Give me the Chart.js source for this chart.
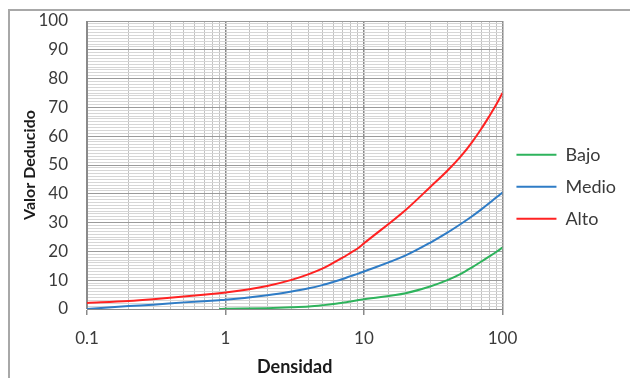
<!DOCTYPE html>
<html>
<head>
<meta charset="utf-8">
<script src="https://cdn.jsdelivr.net/npm/chart.js@4"></script>
<style>
  html, body { margin: 0; padding: 0; background: #ffffff; }
  #wrap { width: 630px; height: 378px; }
</style>
</head>
<body>
<div id="wrap"><canvas id="myChart" width="630" height="378"></canvas></div>
<script>
// Data
const densidad = [0.1, 0.2, 0.3, 0.5, 0.9, 1, 2, 3, 4, 5, 6, 7, 8, 9, 10, 20, 30, 40, 50, 60, 70, 80, 90, 100];
const bajo  = [null, null, null, null, 0, 0.05, 0.3, 0.6, 0.9, 1.3, 1.7, 2.2, 2.6, 3.0, 3.4, 5.5, 7.8, 10.0, 12.2, 14.4, 16.4, 18.2, 19.8, 21.3];
const medio = [0, 1.0, 1.5, 2.3, 3.05, 3.2, 4.8, 6.1, 7.2, 8.3, 9.4, 10.4, 11.4, 12.2, 13.0, 18.6, 23.0, 26.5, 29.5, 32.1, 34.5, 36.7, 38.7, 40.4];
const alto  = [2.1, 2.8, 3.4, 4.3, 5.5, 5.7, 8.0, 10.1, 12.1, 14.0, 16.0, 17.8, 19.5, 21.0, 22.8, 34.4, 42.3, 48.0, 53.0, 57.8, 62.4, 66.8, 70.9, 75.0];
const seriesNames = ['Bajo', 'Medio', 'Alto'];
const xTickValues = [0.1, 1, 10, 100];
const xTickLabels = ['0.1', '1', '10', '100'];

const colors = ['#2eb35c', '#2f7cc6', '#ff2222'];
const fontFamily = 'Lato, "Open Sans", sans-serif';

function toPoints(ys) {
    return densidad.map((x, i) => ({ x: x, y: ys[i] }));
}

function isDecade(v) {
    const l = Math.log10(v);
    return Math.abs(l - Math.round(l)) < 1e-6;
}

// Outer frame of the chart, like the spreadsheet border
const framePlugin = {
    id: 'frame',
    beforeDraw(chart) {
        const c = chart.ctx;
        c.save();
        c.fillStyle = '#ffffff';
        c.fillRect(0, 0, chart.width, chart.height);
        c.strokeStyle = '#a8a8a8';
        c.lineWidth = 2;
        c.strokeRect(9, 10, chart.width + 20, chart.height + 20);
        c.restore();
    }
};

const ctx = document.getElementById('myChart').getContext('2d');
const myChart = new Chart(ctx, {
    type: 'line',
    data: {
        datasets: [bajo, medio, alto].map((ys, i) => ({
            label: seriesNames[i],
            data: toPoints(ys),
            borderColor: colors[i],
            backgroundColor: colors[i],
            borderWidth: 2,
            pointRadius: 0,
            cubicInterpolationMode: 'monotone',
            fill: false
        }))
    },
    options: {
        responsive: false,
        animation: false,
        layout: { padding: { left: 12, top: 21, right: 4, bottom: 0 } },
        plugins: {
            tooltip: { enabled: false },
            legend: {
                position: 'right',
                align: 'start',
                title: { display: true, text: '', padding: { top: 0, bottom: 106 }, font: { size: 4 } },
                labels: {
                    usePointStyle: true,
                    pointStyle: 'line',
                    pointStyleWidth: 40,
                    padding: 14,
                    color: '#3a3a3a',
                    font: { family: fontFamily, size: 18 }
                }
            }
        },
        scales: {
            x: {
                type: 'logarithmic',
                min: 0.1,
                max: 100,
                afterFit: (s) => { s.height = 69; },
                title: {
                    display: true,
                    text: 'Densidad',
                    color: '#1a1a1a',
                    font: { family: fontFamily, size: 18, weight: 'bold' },
                    padding: { top: 0, bottom: 0 }
                },
                border: { display: true, color: '#8a8a8a', width: 1 },
                grid: {
                    drawTicks: true,
                    tickLength: 6,
                    color: (c) => isDecade(c.tick.value) ? '#8a8a8a' : '#c2c2c2',
                    tickColor: (c) => isDecade(c.tick.value) ? '#8a8a8a' : 'rgba(0,0,0,0)',
                    lineWidth: (c) => isDecade(c.tick.value) ? 1.5 : 1
                },
                ticks: {
                    autoSkip: false,
                    maxRotation: 0,
                    padding: 13,
                    color: '#3a3a3a',
                    font: { family: fontFamily, size: 17 },
                    callback: (v) => {
                        const k = xTickValues.findIndex(t => Math.abs(t - v) < 1e-9);
                        return k >= 0 ? xTickLabels[k] : '';
                    }
                }
            },
            y: {
                min: 0,
                max: 100,
                afterFit: (s) => { s.width = 75; },
                title: {
                    display: true,
                    text: 'Valor Deducido',
                    color: '#1a1a1a',
                    font: { family: fontFamily, size: 16, weight: 'bold' },
                    padding: { top: 8, bottom: 0 }
                },
                border: { display: true, color: '#8a8a8a', width: 1 },
                grid: {
                    drawTicks: true,
                    tickLength: 16,
                    tickColor: 'rgba(0,0,0,0)',
                    color: (c) => c.tick.value % 10 === 0 ? '#9a9a9a' : '#d6d6d6',
                    lineWidth: 1
                },
                ticks: {
                    stepSize: 1,
                    autoSkip: false,
                    padding: 3,
                    color: '#3a3a3a',
                    font: { family: fontFamily, size: 17 },
                    callback: (v) => v % 10 === 0 ? String(v) : ''
                }
            }
        }
    },
    plugins: [framePlugin]
});
</script>
</body>
</html>
